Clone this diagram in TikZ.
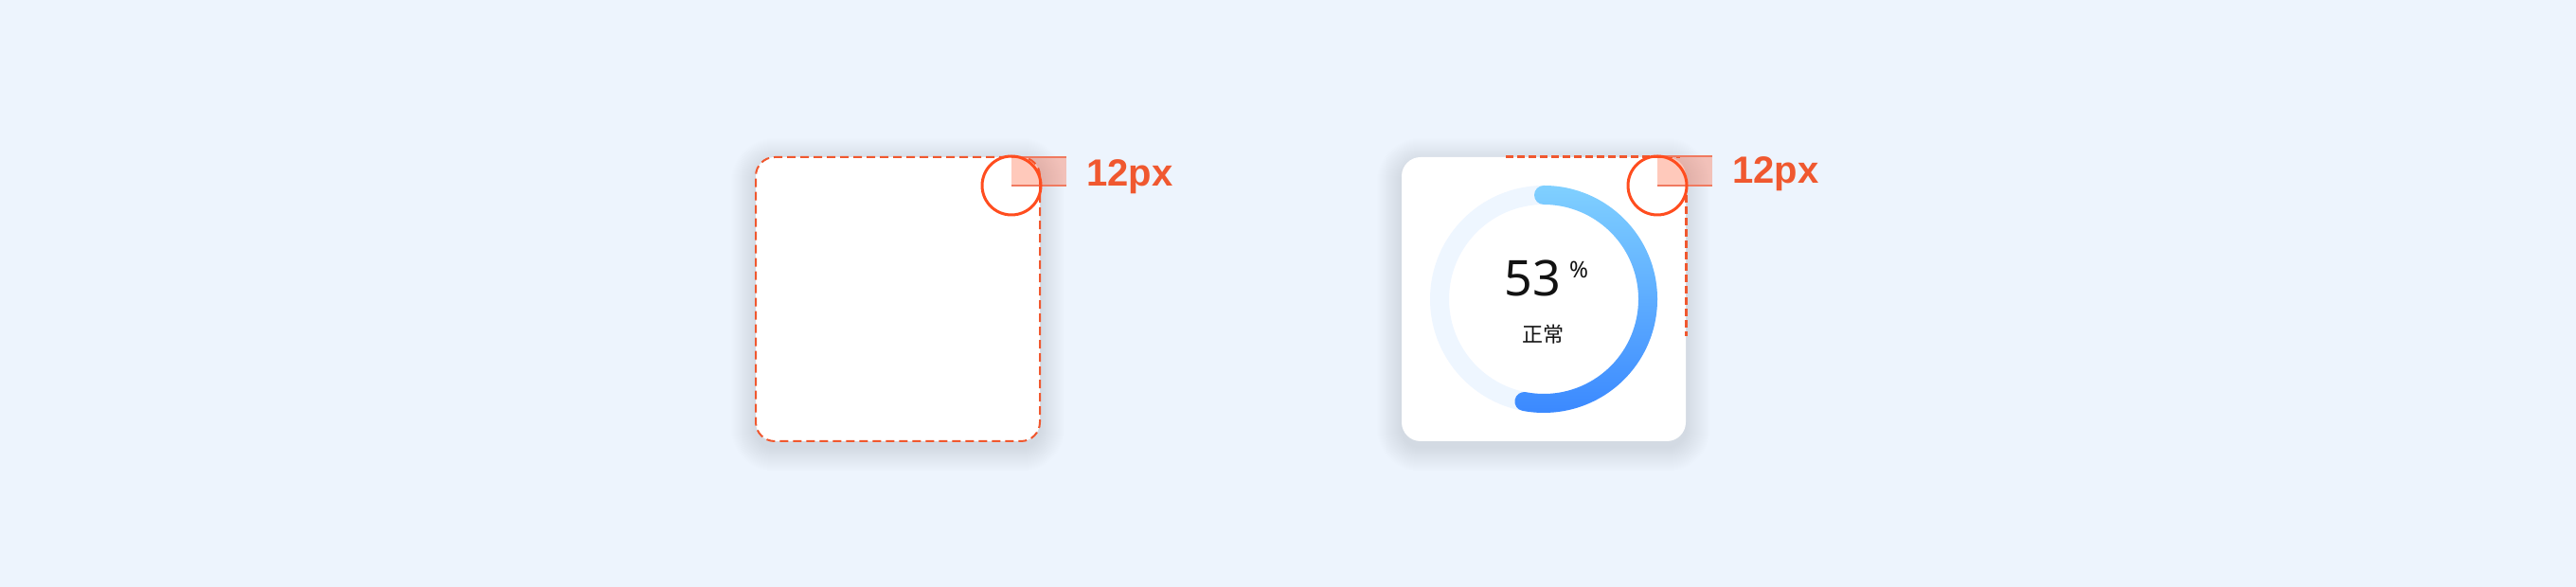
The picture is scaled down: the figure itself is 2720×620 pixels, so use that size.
\documentclass[tikz,border=0pt]{standalone}
\usepackage{fontspec}
\setmainfont{Noto Sans}
\newfontfamily\labelfont{Liberation Sans}
\newfontfamily\cjkfont{Noto Sans CJK SC}

\definecolor{bgblue}{HTML}{EDF4FD}
\definecolor{shadowblue}{HTML}{9AAECB}
\definecolor{markred}{HTML}{FF4D1F}
\definecolor{labelred}{HTML}{F0582F}
\definecolor{barline}{HTML}{F07A60}
\definecolor{ringbg}{HTML}{EEF6FF}
\definecolor{arctop}{HTML}{80D0FF}
\definecolor{arcbot}{HTML}{3A88FF}

\tikzset{
  card/.style={fill=white, rounded corners=20pt, minimum size=300pt, inner sep=0pt},
  cardborder/.style={draw=labelred, line width=2pt, dash pattern=on 9pt off 5pt},
  edgeline/.style={draw=labelred, line width=3pt, dash pattern=on 8pt off 4pt},
  cornermark/.style={draw=markred, line width=3pt, circle, minimum size=62pt, inner sep=0pt},
  radiusbar/.style={fill=markred, fill opacity=0.3},
  pxlabel/.style={text=labelred, font=\labelfont\fontsize{40}{40}\selectfont\bfseries, anchor=base west, inner sep=0pt},
}

% soft shadow under a card centred at #1
\newcommand{\cardshadow}[1]{
  \foreach \s in {1,...,26}
    \fill[shadowblue, opacity=0.009, rounded corners=20pt+\s pt]
      ($(#1)+(-150pt-\s pt,-150pt-\s pt-6pt)$) rectangle ($(#1)+(150pt+\s pt,150pt+\s pt-6pt)$);
}
\usetikzlibrary{calc}

\begin{document}
\begin{tikzpicture}[x=1pt, y=1pt]
\useasboundingbox (0,0) rectangle (2720,620);
\fill[bgblue] (0,0) rectangle (2720,620);

% plain card
\cardshadow{948,304}
\node[card, cardborder] (plaincard) at (948,304) {};
\fill[radiusbar] (1068,424) rectangle (1126,454);
\draw[barline, line width=1.5pt] (1068,454) -- (1126,454);
\draw[barline, line width=2pt] (1068,424) -- (1126,424);
\node[cornermark] (plainmark) at (1068,424) {};
\node[pxlabel] (plainlabel) at (1147,423) {12px};

% gauge card
\cardshadow{1630,304}
\node[card] (gaugecard) at (1630,304) {};
\coordinate (edgetopL) at (1590,454);
\coordinate (edgetopR) at (1774,454);
\coordinate (edgerightT) at (1780,414);
\coordinate (edgerightB) at (1780,265);
\draw[edgeline] (edgetopL) -- (edgetopR);
\draw[edgeline] (edgerightT) -- (edgerightB);
\fill[radiusbar] (1750,424) rectangle (1808,455);
\draw[barline, line width=1.5pt] (1750,455) -- (1808,455);
\draw[barline, line width=2pt] (1750,424) -- (1808,424);
\node[cornermark] (gaugemark) at (1750,424) {};
\node[pxlabel] (gaugelabel) at (1829,426) {12px};

% ring
\draw[ringbg, line width=20pt] (1630,304) circle (110);
\shade[top color=arctop, bottom color=arcbot] (1630,424)
  arc[start angle=90, end angle=-100.8, radius=120]
  arc[start angle=-100.8, end angle=-280.8, radius=10]
  arc[start angle=-100.8, end angle=90, radius=100]
  arc[start angle=270, end angle=90, radius=10] -- cycle;

\node[anchor=base, inner sep=0pt, text=black!93, font=\fontsize{52}{52}\selectfont] (pctvalue) at (1618,307) {53};
\node[anchor=base west, inner sep=0pt, text=black!93, font=\fontsize{24}{24}\selectfont] (pctsign) at (1657,326) {\%};
\node[inner sep=0pt, text=black!93, font=\cjkfont\fontsize{22}{22}\selectfont] (statustext) at (1629,267) {正常};
\end{tikzpicture}
\end{document}
